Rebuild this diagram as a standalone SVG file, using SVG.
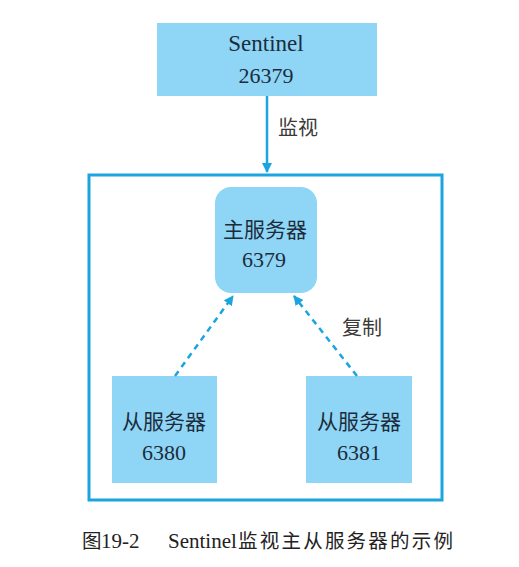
<svg xmlns="http://www.w3.org/2000/svg" width="519" height="567" viewBox="0 0 519 567">
<style>
.node{fill:#8fd6f6;}
.t{font-family:"Liberation Serif","Noto Sans CJK SC",serif;font-size:22px;fill:#1c2c3c;text-anchor:middle;}
.cj{font-family:"Noto Sans CJK SC",sans-serif;font-size:21px;fill:#1c2c3c;text-anchor:middle;}
.lbl{font-family:"Noto Sans CJK SC",sans-serif;font-size:20px;fill:#3a3a3a;}
.edge{stroke:#1aa5df;stroke-width:2.5;fill:none;}
.dash{stroke:#1aa5df;stroke-width:2.5;fill:none;stroke-dasharray:6,5;}
.cap{font-family:"Liberation Serif","Noto Sans CJK SC",serif;font-size:21px;fill:#222;}
.capc{font-family:"Noto Sans CJK SC",sans-serif;font-size:19.5px;fill:#222;}
</style>
<defs>
<marker id="ah" viewBox="0 0 10 10" refX="9" refY="5" markerWidth="4" markerHeight="4" orient="auto" markerUnits="strokeWidth">
<path d="M0,0 L10,5 L0,10 z" fill="#1aa5df"/>
</marker>
</defs>
<rect width="519" height="567" fill="#fff"/>
<g id="container">
<rect x="89" y="175" width="353" height="325" fill="none" stroke="#1aa5df" stroke-width="3"/>
</g>
<g id="sentinel">
<rect class="node" x="157" y="23" width="220" height="73"/>
<text class="t" x="266" y="51" style="font-size:23px">Sentinel</text>
<text class="t" x="266" y="83">26379</text>
</g>
<g id="master">
<rect class="node" x="215" y="187" width="102" height="106" rx="16"/>
<text class="cj" x="265" y="237">主服务器</text>
<text class="t" x="264" y="267">6379</text>
</g>
<g id="slave1">
<rect class="node" x="112" y="376" width="105" height="107"/>
<text class="cj" x="164" y="429">从服务器</text>
<text class="t" x="164" y="460">6380</text>
</g>
<g id="slave2">
<rect class="node" x="306" y="376" width="106" height="107"/>
<text class="cj" x="359" y="429">从服务器</text>
<text class="t" x="359" y="460">6381</text>
</g>
<g id="connectors">
<line class="edge" x1="267" y1="96" x2="267" y2="172" marker-end="url(#ah)"/>
<line class="dash" x1="175" y1="376" x2="233" y2="296" marker-end="url(#ah)"/>
<line class="dash" x1="357" y1="376" x2="294" y2="296" marker-end="url(#ah)"/>
<text class="lbl" x="278" y="135">监视</text>
<text class="lbl" x="342" y="335">复制</text>
</g>
<g id="caption">
<text class="capc" x="82" y="548">图</text>
<text class="cap" x="101" y="548">19-2</text>
<text class="cap" x="168" y="548">Sentinel</text>
<text class="capc" x="238" y="548" textLength="215">监视主从服务器的示例</text>
</g>
</svg>
